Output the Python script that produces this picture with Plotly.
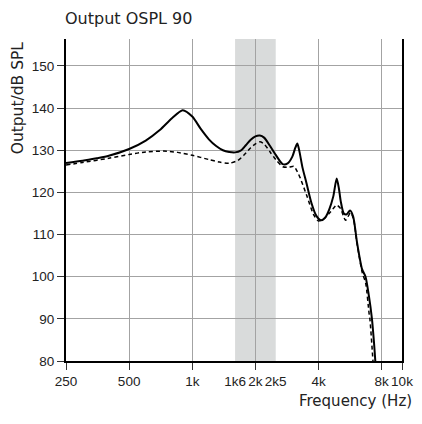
import math
import plotly.graph_objects as go

# ---- data ----
solid_freq = [250, 300, 350, 400, 500, 600, 700, 800, 900, 1000, 1100, 1200, 1300, 1400, 1500,
              1600, 1700, 1800, 1900, 2000, 2100, 2200, 2350, 2500, 2700, 2850, 3000, 3100, 3170,
              3250, 3350, 3500, 3700, 3900, 4100, 4300, 4500, 4700, 4880, 5000, 5100, 5280, 5450,
              5650, 5850, 6100, 6450, 6700, 6950, 7190, 7350, 7460, 7550]
solid_db = [127.0, 127.5, 128.1, 128.7, 130.3, 132.3, 134.8, 137.6, 139.5, 138.0, 135.0, 132.6, 131.0,
            130.0, 129.6, 129.5, 129.9, 131.2, 132.5, 133.3, 133.5, 133.0, 131.0, 128.9, 126.7,
            126.9, 128.5, 130.6, 131.6, 129.5, 126.0, 122.3, 117.5, 114.5, 113.4, 114.0, 116.0,
            119.0, 123.3, 121.0, 118.0, 115.0, 114.8, 115.7, 114.3, 108.2, 101.8, 100.0, 95.5,
            90.0, 84.5, 80.0, 76.0]

dashed_freq = [250, 300, 400, 500, 600, 730, 850, 1000, 1200, 1350, 1500, 1650, 1760, 1900, 2000,
               2100, 2200, 2350, 2500, 2700, 2900, 3050, 3170, 3280, 3500, 3800, 4000, 4200, 4570,
               4880, 5090, 5380, 5690, 5880, 6120, 6470, 6710, 6960, 7030, 7270, 7350]
dashed_db = [126.5, 127.1, 128.1, 129.0, 129.6, 129.8, 129.5, 128.8, 127.8, 127.2, 126.9, 127.6,
             128.8, 130.6, 131.5, 132.0, 131.5, 129.6, 127.8, 126.1, 126.0, 126.2, 124.9, 123.3,
             119.5, 114.6, 113.2, 113.6, 115.4, 117.0, 116.2, 113.4, 115.2, 113.5, 107.5, 100.9,
             98.5, 91.5, 90.0, 80.0, 76.0]

tick_freqs = [250, 500, 1000, 1600, 2000, 2500, 4000, 8000, 10000]
tick_labels = ["250", "500", "1k", "1k6", "2k", "2k5", "4k", "8k", "10k"]
grid_freqs = [250, 500, 1000, 2000, 4000, 8000, 10000]
y_ticks = [80, 90, 100, 110, 120, 130, 140, 150]
band = [1600, 2500]
x_range = [250, 10000]
y_range = [80, 156.4]

TICKF = "Liberation Sans, Arial, sans-serif"
WIDE = "DejaVu Sans, Liberation Sans, Arial, sans-serif"

fig = go.Figure()
fig.add_trace(go.Scatter(x=dashed_freq, y=dashed_db, mode="lines",
                         line=dict(color="black", width=1.5, dash="4px,3px", shape="spline", smoothing=0.7),
                         hoverinfo="skip", showlegend=False))
fig.add_trace(go.Scatter(x=solid_freq, y=solid_db, mode="lines",
                         line=dict(color="black", width=2, shape="spline", smoothing=0.7),
                         hoverinfo="skip", showlegend=False))

lx = [math.log10(v) for v in x_range]
def frac(f):
    return (math.log10(f) - lx[0]) / (lx[1] - lx[0])

fig.add_shape(type="rect", xref="x domain", yref="y domain",
              x0=frac(band[0]), x1=frac(band[1]), y0=0, y1=1,
              fillcolor="#d9dbdb", line=dict(width=0), layer="below")

fig.update_layout(
    width=422, height=424,
    margin=dict(l=58, r=28, t=30.5, b=70.5, autoexpand=False),
    paper_bgcolor="white", plot_bgcolor="white",
    title=dict(text="Output OSPL 90", font=dict(family=WIDE, size=16, color="#222"),
               x=57 / 422, xref="container", xanchor="left",
               y=1 - 10 / 424, yref="container", yanchor="middle"),
    xaxis=dict(type="log", range=lx, tickvals=tick_freqs, ticktext=tick_labels, tickangle=0,
               automargin=False,
               showgrid=False, zeroline=False, ticks="outside", ticklen=7,
               tickcolor="rgba(0,0,0,0)", showline=True, linecolor="black", linewidth=2,
               tickfont=dict(family=TICKF, size=13.5, color="#222"),
               minor=dict(tickvals=grid_freqs, showgrid=True, gridcolor="#a3a3a3", gridwidth=1.3,
                          ticks="outside", ticklen=7, tickcolor="#333", tickwidth=1.3)),
    yaxis=dict(range=y_range, tickvals=y_ticks, showgrid=True, gridcolor="#a3a3a3", gridwidth=1.3,
               automargin=False,
               zeroline=False, ticks="outside", ticklen=7, tickcolor="#333", tickwidth=1.3,
               showline=True, linecolor="black", linewidth=2, mirror=True,
               tickfont=dict(family=TICKF, size=13.5, color="#222")),
    annotations=[
        dict(text="Output/dB SPL", textangle=-90, xref="paper", yref="paper",
             x=(17.5 - 66) / 336, y=(361.5 - 97.5) / 323, xanchor="center", yanchor="middle",
             showarrow=False, font=dict(family=WIDE, size=15.5, color="#222")),
        dict(text="Frequency (Hz)", xref="paper", yref="paper",
             x=(414 - 66) / 336, y=(361.5 - 401.5) / 323, xanchor="right", yanchor="middle",
             showarrow=False, font=dict(family=WIDE, size=15, color="#222")),
    ],
)

fig.write_html("out.html")
